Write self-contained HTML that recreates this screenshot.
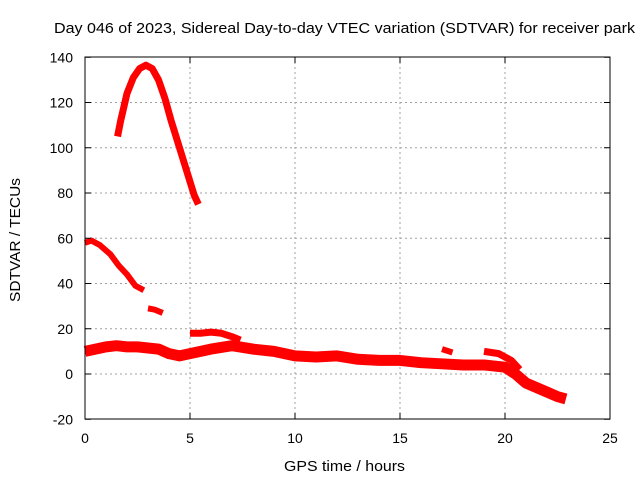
<!DOCTYPE html>
<html><head><meta charset="utf-8"><style>
html,body{margin:0;padding:0;background:#fff}
svg{display:block;font-family:"Liberation Sans",sans-serif}
</style></head><body>
<svg width="640" height="480">
<g id="grid"></g>
<g id="series"></g>
<rect x="85" y="57" width="525" height="362" fill="none" stroke="#000" stroke-width="1"/>
<g id="ticks"></g>
<text x="54" y="33" textLength="581" lengthAdjust="spacingAndGlyphs" font-size="15">Day 046 of 2023, Sidereal Day-to-day VTEC variation (SDTVAR) for receiver park</text>
<text x="284" y="471" textLength="121" lengthAdjust="spacingAndGlyphs" font-size="15">GPS time / hours</text>
<text transform="translate(20,302) rotate(-90)" textLength="124" lengthAdjust="spacingAndGlyphs" font-size="15">SDTVAR / TECUs</text>
</svg>
<script>
const xTicks=[0,5,10,15,20,25];
const yTicks=[-20,0,20,40,60,80,100,120,140];
const seriesArc=[[1.55,105],[1.7,112],[2,124],[2.3,131],[2.6,135],[2.9,136.5],[3.2,135],[3.5,130],[3.8,122],[4.1,112],[4.5,100],[4.9,88],[5.2,79],[5.4,75]];
const seriesEarly=[[0,58],[0.3,59],[0.7,57],[1.2,53],[1.6,48],[2,44],[2.4,39],[2.8,37]];
const seriesShort=[[3,29],[3.3,28.5],[3.7,27]];
const seriesMid=[[5,18],[5.5,18],[6,18.5],[6.5,18],[7,16.5],[7.4,15]];
const seriesMain=[[0,10],[0.5,11],[1,12],[1.5,12.5],[2,12],[2.5,12],[3,11.5],[3.5,11],[4,9],[4.5,8],[5,9],[6,11],[7,12.5],[8,11],[9,10],[10,8],[11,7.5],[12,8],[13,6.5],[14,6],[15,6],[16,5],[17,4.5],[18,4],[19,4],[19.5,3.5],[20,3],[20.5,0],[21,-4],[21.5,-6],[22,-8],[22.5,-10],[22.9,-11]];
const seriesLate=[[17,11],[17.5,9.5]];
const seriesLate2=[[19,10],[19.7,9],[20.3,6],[20.7,2]];
const X=v=>85+v*525/25, Y=v=>374-v*362/160;
const NS='http://www.w3.org/2000/svg';
const g=document.getElementById('grid'),t=document.getElementById('ticks'),s=document.getElementById('series');
function mk(tag,a,p){const e=document.createElementNS(NS,tag);for(const k in a)e.setAttribute(k,a[k]);p.appendChild(e);return e;}
xTicks.forEach(v=>{
 if(v>0&&v<25){const l=mk('line',{x1:X(v),x2:X(v),y1:57,y2:419,stroke:'#a0a0a0','stroke-dasharray':'2,3'},g);
 
 }
 mk('line',{x1:X(v),x2:X(v),y1:419,y2:413,stroke:'#000'},t);
 mk('line',{x1:X(v),x2:X(v),y1:57,y2:63,stroke:'#000'},t);
 const tx=mk('text',{x:X(v),y:443,'text-anchor':'middle','font-size':14},t);tx.textContent=v;
 
 
});
yTicks.forEach(v=>{
 if(v>-20&&v<140){const l=mk('line',{x1:85,x2:610,y1:Y(v),y2:Y(v),stroke:'#a0a0a0','stroke-dasharray':'2,3'},g);
 
 }
 mk('line',{x1:85,x2:91,y1:Y(v),y2:Y(v),stroke:'#000'},t);
 mk('line',{x1:610,x2:604,y1:Y(v),y2:Y(v),stroke:'#000'},t);
 const tx=mk('text',{x:73,y:Y(v)+5,'text-anchor':'end','font-size':14},t);tx.textContent=v;
 
 
});
function draw(arr,w,name){
 const p=mk('polyline',{points:arr.map(d=>X(d[0])+','+Y(d[1])).join(' '),fill:'none',stroke:'#f00','stroke-width':w,'stroke-linejoin':'round'},s);
 
 
}
draw(seriesArc,7,'series-arc');
draw(seriesEarly,6,'series-early');
draw(seriesShort,6,'series-short');
draw(seriesMid,7,'series-mid');
draw(seriesMain,11,'series-main');
draw(seriesLate,6,'series-late');
draw(seriesLate2,7,'series-late2');
</script>
</body></html>
